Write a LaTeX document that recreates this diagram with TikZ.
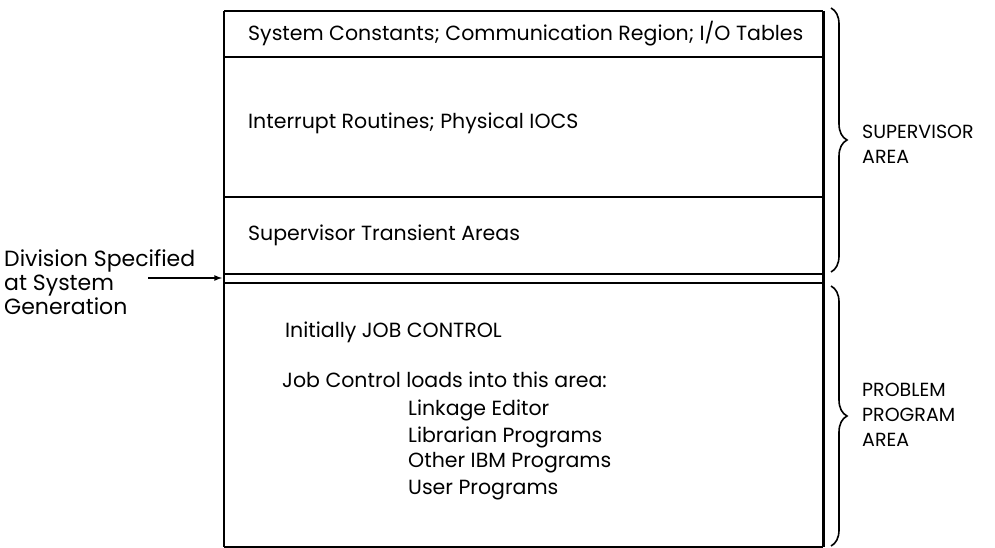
\documentclass[tikz,border=0pt]{standalone}
\usepackage{fontspec}
\setmainfont{Poppins}
\usetikzlibrary{decorations.pathreplacing}

\tikzset{
  lbl/.style={anchor=west, inner sep=0pt, font=\fontsize{20.5}{24}\selectfont},
  side/.style={anchor=west, inner sep=0pt, align=left, font=\fontsize{22}{24}\selectfont},
  areatext/.style={anchor=west, inner sep=0pt, align=left, font=\fontsize{19}{25}\selectfont},
  curly/.style={decorate, decoration={brace, amplitude=16pt}, line width=1.6pt},
  divider/.style={line width=1.5pt}
}

\begin{document}
\begin{tikzpicture}[x=1pt,y=-1pt]
        \useasboundingbox (0,0) rectangle (995,548);
        % Storage box
        \draw[line width=2pt] (224,11) -- (823,11);
        \draw[line width=2pt] (224,11) -- (224,547);
        \draw[line width=3pt] (823,11) -- (823,547);
        \draw[line width=2pt] (224,547) -- (823,547);
        \draw[divider] (224,57) -- (823,57);
        \draw[divider] (224,197) -- (823,197);
        \draw[divider] (224,274) -- (823,274);
        \draw[divider] (224,283) -- (823,283);
        % Region texts
        \node[lbl] (consts) at (248,34) {System Constants; Communication Region; I/O Tables};
        \node[lbl] (intr) at (248,123) {Interrupt Routines; Physical IOCS};
        \node[lbl] (trans) at (248,235) {Supervisor Transient Areas};
        \node[lbl] (jobctl) at (285,332) {Initially JOB CONTROL};
        \node[lbl] (loads) at (282,380) {Job Control loads into this area:};
        \node[lbl] (linked) at (408,410) {Linkage Editor};
        \node[lbl] (librn) at (408,437) {Librarian Programs};
        \node[lbl] (ibmprog) at (408,463) {Other IBM Programs};
        \node[lbl] (userprog) at (408,490) {User Programs};
        % Division arrow
        \node[side] (divn) at (4,282) {Division Specified\\at System\\Generation};
        \coordinate (arrowtail) at (148,278);
        \coordinate (split) at (222,278);
        \draw[line width=1.6pt,-latex] (arrowtail) -- (split);
        % Braces
        \coordinate (supTop) at (831,8);
        \coordinate (supBot) at (831,272);
        \coordinate (probTop) at (831,286);
        \coordinate (probBot) at (831,546);
        \draw[curly] (supTop) -- (supBot);
        \draw[curly] (probTop) -- (probBot);
        \node[areatext] (supv) at (862,144) {SUPERVISOR\\AREA};
        \node[areatext] (prob) at (862,415) {PROBLEM\\PROGRAM\\AREA};
    \end{tikzpicture}
\end{document}
